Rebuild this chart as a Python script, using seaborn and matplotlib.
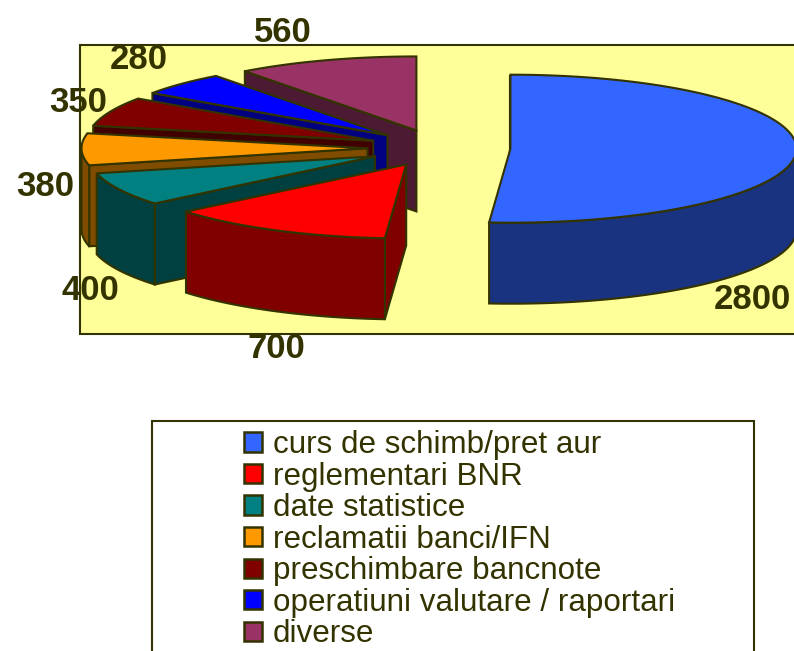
import numpy as np
import matplotlib
matplotlib.use('Agg')
import matplotlib.pyplot as plt
from matplotlib.patches import Polygon, Patch, Rectangle
import seaborn as sns

#Chart data
categories = ['curs de schimb/pret aur', 'reglementari BNR', 'date statistice', 'reclamatii banci/IFN',
              'preschimbare bancnote', 'operatiuni valutare / raportari', 'diverse']
values = [2800, 700, 400, 380, 350, 280, 560]
top_colors = ['#3366FF', '#FF0000', '#008080', '#FF9900', '#800000', '#0000FF', '#993366']

#Layout, in pixels of the 794x651 picture
center_x, center_y = 439, 148
radius_x, radius_y = 286, 74
depth = 81
explode = 0.25
edge_color = '#333300'
label_offsets = [(-44, 148), (1, 118), (-29, 101), (-36, 37), (-32, -9), (-43, -24), (-43, -28)]

sns.set_theme(style='white')
plt.rcParams['font.family'] = ['Liberation Sans', 'DejaVu Sans']
palette = sns.color_palette(top_colors)

fig = plt.figure(figsize=(7.94, 6.51), dpi=100)
ax = fig.add_axes([0, 0, 1, 1])
ax.set_xlim(0, 794)
ax.set_ylim(651, 0)
ax.axis('off')

#Plot area and legend box
ax.add_patch(Rectangle((80, 45), 730, 289, facecolor='#FFFF99', edgecolor=edge_color, linewidth=1.5, zorder=1))
ax.add_patch(Rectangle((152, 421), 602, 300, facecolor='white', edgecolor=edge_color, linewidth=1.5, zorder=1))


def rim(angle):
    #Angles run counterclockwise from 12 o'clock, matching the pie on the picture
    return -radius_x * np.sin(angle), -radius_y * np.cos(angle)


#Slice angles come from the values: big slice is last going counterclockwise
sweeps = np.radians(values) * 360 / sum(values)
ends = {}
start = 0.0
for i in [6, 5, 4, 3, 2, 1, 0]:
    ends[i] = (start, start + sweeps[i])
    start += sweeps[i]

#Painter's order, back slices first
for order, i in enumerate([6, 5, 4, 3, 2, 1, 0]):
    a0, a1 = ends[i]
    mid = (a0 + a1) / 2
    ux, uy = rim(mid)
    apex_x = center_x + explode * ux
    apex_y = center_y + explode * uy
    top = palette[i]
    side = tuple(c * 0.5 for c in top)
    z = 2 + order

    #Flat cut face at the far end of the slice
    ex, ey = rim(a1)
    face = [(apex_x, apex_y), (apex_x + ex, apex_y + ey), (apex_x + ex, apex_y + ey + depth), (apex_x, apex_y + depth)]
    ax.add_patch(Polygon(face, closed=True, facecolor=side, edgecolor=edge_color, linewidth=1.5, zorder=z))

    #Outer wall, only the part that faces the viewer
    w0 = max(a0, np.pi / 2)
    w1 = min(a1, 3 * np.pi / 2)
    if w1 > w0:
        t = np.linspace(w0, w1, 80)
        wx, wy = rim(t)
        wall = np.column_stack([np.r_[apex_x + wx, (apex_x + wx)[::-1]],
                                np.r_[apex_y + wy, (apex_y + wy + depth)[::-1]]])
        ax.add_patch(Polygon(wall, closed=True, facecolor=side, edgecolor=edge_color, linewidth=1.5, zorder=z))

    #Top of the slice
    t = np.linspace(a0, a1, 120)
    tx, ty = rim(t)
    surface = np.column_stack([np.r_[apex_x, apex_x + tx], np.r_[apex_y, apex_y + ty]])
    ax.add_patch(Polygon(surface, closed=True, facecolor=top, edgecolor=edge_color, linewidth=1.5, zorder=z))

    #Value label, placed from the rim point in the middle of the slice
    off_x, off_y = label_offsets[i]
    ax.text(apex_x + ux + off_x, apex_y + uy + off_y, str(values[i]), ha='center', va='center',
            fontsize=25, fontweight='bold', color=edge_color, zorder=20)

#Legend
handles = [Patch(facecolor=palette[i], edgecolor=edge_color, linewidth=1.8) for i in range(len(categories))]
leg = ax.legend(handles, categories, loc='upper left', bbox_to_anchor=(244, 430), bbox_transform=ax.transData,
                frameon=False, fontsize=22.6, labelcolor=edge_color, handlelength=0.57, handleheight=0.57,
                handletextpad=0.35, labelspacing=0.05, borderpad=0, borderaxespad=0)
leg.set_zorder(20)

fig.savefig('out.png', dpi=100)
